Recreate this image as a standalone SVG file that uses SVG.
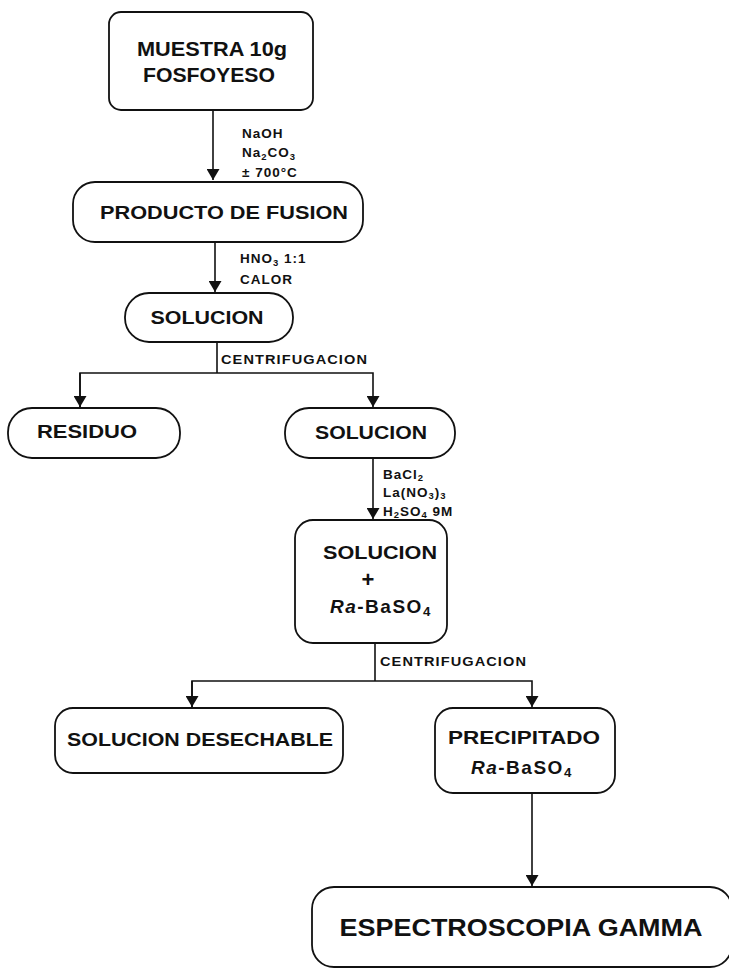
<svg xmlns="http://www.w3.org/2000/svg" width="729" height="968" viewBox="0 0 729 968">
<style>
.box{fill:#fff;stroke:#111;stroke-width:1.8}
.t{font-family:"Liberation Sans",Arial,Helvetica,sans-serif;font-weight:bold;fill:#111}
.lbl{font-family:"Liberation Sans",Arial,Helvetica,sans-serif;font-weight:bold;fill:#111;font-size:13.5px;letter-spacing:1px}
.ln{fill:none;stroke:#111;stroke-width:1.6}
.sub{font-size:70%}
</style>
<defs>
<marker id="ah" viewBox="0 0 11 13" refX="11" refY="6.5" markerWidth="11" markerHeight="13" markerUnits="userSpaceOnUse" orient="auto">
<path d="M0,0 L11,6.5 L0,13 z" fill="#111"/>
</marker>
</defs>
<rect width="729" height="968" fill="#fff"/>

<g id="connectors">
<line class="ln" x1="213" y1="110" x2="213" y2="180" marker-end="url(#ah)"/>
<line class="ln" x1="215" y1="242" x2="215" y2="292" marker-end="url(#ah)"/>
<polyline class="ln" points="217,342 217,373"/>
<polyline class="ln" points="80,407 80,373 373,373 373,407" marker-end="url(#ah)"/>
<line class="ln" x1="80" y1="373" x2="80" y2="407" marker-end="url(#ah)"/>
<line class="ln" x1="373" y1="458" x2="373" y2="519" marker-end="url(#ah)"/>
<polyline class="ln" points="375,643 375,681"/>
<polyline class="ln" points="192,707 192,681 532,681 532,707" marker-end="url(#ah)"/>
<line class="ln" x1="192" y1="681" x2="192" y2="707" marker-end="url(#ah)"/>
<line class="ln" x1="532" y1="793" x2="532" y2="886" marker-end="url(#ah)"/>

<text class="lbl" x="242" y="138">NaOH</text>
<text class="lbl" x="242" y="157">Na<tspan class="sub" dy="3">2</tspan><tspan dy="-3">CO</tspan><tspan class="sub" dy="3">3</tspan></text>
<text class="lbl" x="242" y="177">±  700°C</text>
<text class="lbl" x="240" y="263">HNO<tspan class="sub" dy="3">3</tspan><tspan dy="-3">  1:1</tspan></text>
<text class="lbl" x="240" y="284">CALOR</text>
<text class="lbl" x="221" y="364" textLength="147" lengthAdjust="spacingAndGlyphs">CENTRIFUGACION</text>
<text class="lbl" x="383" y="479">BaCl<tspan class="sub" dy="2">2</tspan></text>
<text class="lbl" x="383" y="497">La(NO<tspan class="sub" dy="2">3</tspan><tspan dy="-2">)</tspan><tspan class="sub" dy="2">3</tspan></text>
<text class="lbl" x="383" y="516">H<tspan class="sub" dy="2">2</tspan><tspan dy="-2">SO</tspan><tspan class="sub" dy="2">4</tspan><tspan dy="-2">  9M</tspan></text>
<text class="lbl" x="380" y="666" textLength="147" lengthAdjust="spacingAndGlyphs">CENTRIFUGACION</text>
</g>

<g id="muestra">
<rect class="box" x="109" y="12" width="204" height="98" rx="12"/>
<text class="t" x="212" y="56" font-size="21" text-anchor="middle" textLength="150" lengthAdjust="spacingAndGlyphs">MUESTRA 10g</text>
<text class="t" x="209" y="82" font-size="21" text-anchor="middle" textLength="132" lengthAdjust="spacingAndGlyphs">FOSFOYESO</text>
</g>

<g id="fusion">
<rect class="box" x="73" y="182" width="290" height="60" rx="22"/>
<text class="t" x="224" y="219" font-size="19" text-anchor="middle" textLength="248" lengthAdjust="spacingAndGlyphs">PRODUCTO DE FUSION</text>
</g>

<g id="solucion1">
<rect class="box" x="125" y="293" width="168" height="49" rx="24"/>
<text class="t" x="207" y="324" font-size="19" text-anchor="middle" textLength="113" lengthAdjust="spacingAndGlyphs">SOLUCION</text>
</g>

<g id="residuo">
<rect class="box" x="8" y="408" width="172" height="50" rx="24"/>
<text class="t" x="87" y="438" font-size="19" text-anchor="middle" textLength="100" lengthAdjust="spacingAndGlyphs">RESIDUO</text>
</g>

<g id="solucion2">
<rect class="box" x="285" y="408" width="170" height="50" rx="24"/>
<text class="t" x="371" y="439" font-size="19" text-anchor="middle" textLength="112" lengthAdjust="spacingAndGlyphs">SOLUCION</text>
</g>

<g id="solucion-rabaso4">
<rect class="box" x="295" y="520" width="152" height="123" rx="18"/>
<text class="t" x="380" y="559" font-size="19" text-anchor="middle" textLength="114" lengthAdjust="spacingAndGlyphs">SOLUCION</text>
<text class="t" x="368" y="587" font-size="22" text-anchor="middle">+</text>
<text class="t" x="330" y="613" font-size="19" letter-spacing="1.5"><tspan font-style="italic">Ra</tspan>-BaSO<tspan class="sub" dy="3">4</tspan></text>
</g>

<g id="desechable">
<rect class="box" x="55" y="708" width="288" height="65" rx="18"/>
<text class="t" x="200" y="746" font-size="19" text-anchor="middle" textLength="266" lengthAdjust="spacingAndGlyphs">SOLUCION DESECHABLE</text>
</g>

<g id="precipitado">
<rect class="box" x="435" y="708" width="180" height="85" rx="18"/>
<text class="t" x="524" y="744" font-size="19" text-anchor="middle" textLength="152" lengthAdjust="spacingAndGlyphs">PRECIPITADO</text>
<text class="t" x="471" y="774" font-size="19" letter-spacing="1.5"><tspan font-style="italic">Ra</tspan>-BaSO<tspan class="sub" dy="3">4</tspan></text>
</g>

<g id="espectroscopia">
<rect class="box" x="312" y="887" width="420" height="80" rx="22"/>
<text class="t" x="521" y="936" font-size="24" text-anchor="middle" textLength="363" lengthAdjust="spacingAndGlyphs">ESPECTROSCOPIA GAMMA</text>
</g>
</svg>
